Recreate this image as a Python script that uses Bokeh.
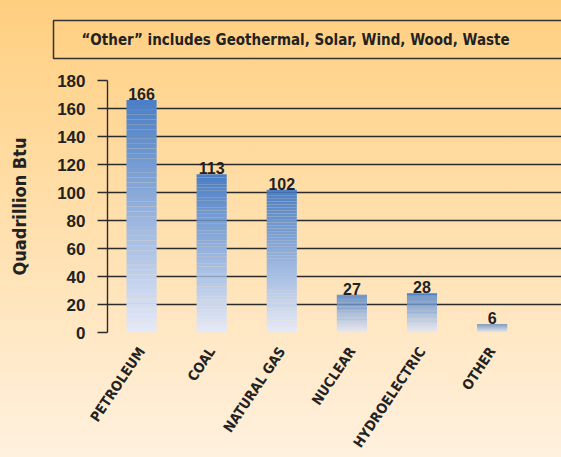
from bokeh.plotting import figure
from bokeh.models import Range1d, Title, ColumnDataSource, FixedTicker
from bokeh.core.properties import value
from bokeh.embed import file_html
from bokeh.resources import INLINE

categories = ["PETROLEUM", "COAL", "NATURAL GAS", "NUCLEAR", "HYDROELECTRIC", "OTHER"]
values = [166, 113, 102, 27, 28, 6]
y_ticks = [0, 20, 40, 60, 80, 100, 120, 140, 160, 180]
note = "\u201cOther\u201d includes Geothermal, Solar, Wind, Wood, Waste"
y_title = "Quadrillion Btu"

COND = "'DejaVu Sans Condensed', 'Liberation Sans', sans-serif"

TOP = (0x4A, 0x7E, 0xC4)
BOT = (0xE6, 0xEA, 0xF8)
N = 48

def lerp(t):
    return "#%02x%02x%02x" % tuple(int(round(b + (a - b) * t)) for a, b in zip(TOP, BOT))

xs = list(range(len(categories)))

title = Title(text=note, align="left", offset=-54, standoff=40, vertical_align="top",
              text_font=COND, text_font_style="bold", text_font_size="15px",
              text_color="#222222",
              border_line_color="#333333", border_line_width=1.5,
              padding=dict(left=28, right=58, top=10, bottom=10))

p = figure(width=561, height=457, output_backend="svg", toolbar_location=None,
           x_range=Range1d(-0.486, 5.99), y_range=Range1d(0, 180), title=title,
           min_border_left=107, min_border_right=0, min_border_top=77, min_border_bottom=124)
p.styles = {"background": "linear-gradient(to bottom, #FFCF80 0%, #FFE0AE 50%, #FFF1DF 100%)"}
p.background_fill_alpha = 0
p.border_fill_alpha = 0
p.outline_line_color = None

left, right, bottom, top, colors = [], [], [], [], []
for x, v in zip(xs, values):
    for k in range(N):
        left.append(x - 0.215)
        right.append(x + 0.215)
        bottom.append(v * k / N)
        top.append(v * (k + 1) / N)
        colors.append(lerp((k + 0.5) / N))
p.quad(left=left, right=right, bottom=bottom, top=top, fill_color=colors, line_color=None)

src = ColumnDataSource(dict(x=xs, y=values, t=[str(v) for v in values]))
p.text(x="x", y="y", text="t", source=src, text_align="center", text_baseline="bottom",
       y_offset=0, text_font=value("Liberation Sans"), text_font_style="bold",
       text_font_size="16px", text_color="#222222")

p.ygrid.ticker = FixedTicker(ticks=y_ticks)
p.ygrid.grid_line_color = "#2b2b2b"
p.ygrid.grid_line_width = 1.4
p.xgrid.grid_line_color = None

p.yaxis.ticker = FixedTicker(ticks=y_ticks)
p.yaxis.axis_line_color = "#2b2b2b"
p.yaxis.axis_line_width = 1.4
p.yaxis.major_tick_line_color = "#2b2b2b"
p.yaxis.major_tick_line_width = 1.4
p.yaxis.major_tick_out = 10
p.yaxis.major_tick_in = 0
p.yaxis.minor_tick_line_color = None
p.yaxis.major_label_standoff = 12
p.yaxis.major_label_text_font = "Liberation Sans"
p.yaxis.major_label_text_font_style = "bold"
p.yaxis.major_label_text_font_size = "17px"
p.yaxis.major_label_text_color = "#222222"
p.yaxis.axis_label = y_title
p.yaxis.axis_label_text_font = COND
p.yaxis.axis_label_text_font_style = "bold"
p.yaxis.axis_label_text_font_size = "18px"
p.yaxis.axis_label_text_color = "#222222"
p.yaxis.axis_label_standoff = 24

p.xaxis.ticker = FixedTicker(ticks=xs)
p.xaxis.major_label_overrides = {i: c for i, c in zip(xs, categories)}
p.xaxis.axis_line_color = None
p.xaxis.major_tick_line_color = None
p.xaxis.minor_tick_line_color = None
p.xaxis.major_label_orientation = 0.98
p.xaxis.major_label_standoff = 10
p.xaxis.major_label_text_font = COND
p.xaxis.major_label_text_font_style = "bold"
p.xaxis.major_label_text_font_size = "14px"
p.xaxis.major_label_text_color = "#222222"

open("out.html", "w").write(file_html(p, INLINE))
